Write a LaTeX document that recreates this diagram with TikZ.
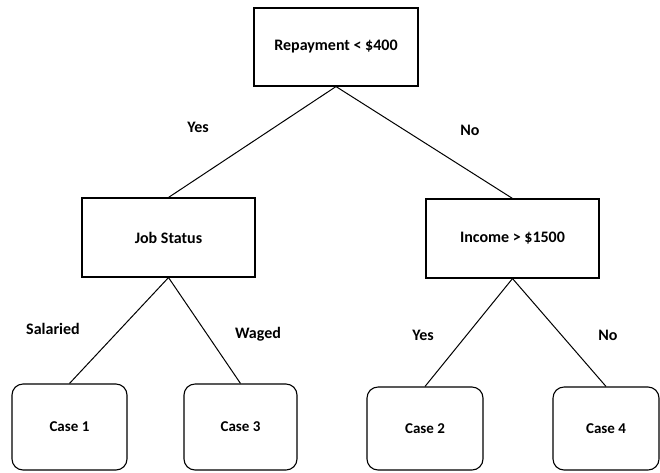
\documentclass[tikz,border=0pt]{standalone}
\usepackage{fontspec}
\setmainfont{Carlito}
\begin{document}
\begin{tikzpicture}[x=1pt,y=-1pt,
  every node/.append style={font=\fontsize{16}{19}\selectfont\bfseries},
  decision/.style={draw, line width=1.1pt, inner sep=0pt},
  leaf/.style={draw, line width=1.1pt, rounded corners=11pt, inner sep=0pt, font=\fontsize{15}{18}\selectfont\bfseries},
  branch/.style={line width=1pt},
  lbl/.style={inner sep=0pt}]
\useasboundingbox (0,0) rectangle (660,472);
\node[decision, minimum width=164pt, minimum height=78pt] (root) at (336,47) {Repayment < \$400};
\node[decision, minimum width=173pt, minimum height=79pt] (job) at (168.5,237.5) {Job Status};
\node[decision, minimum width=173pt, minimum height=79pt] (inc) at (512.5,238.5) {Income > \$1500};
\node[leaf, minimum width=115pt, minimum height=86pt] (c1) at (69.5,427) {Case 1};
\node[leaf, minimum width=113pt, minimum height=86pt] (c3) at (240.5,427) {Case 3};
\node[leaf, minimum width=116pt, minimum height=83pt] (c2) at (425,428.5) {Case 2};
\node[leaf, minimum width=106pt, minimum height=83pt] (c4) at (606,428.5) {Case 4};
\draw[branch] (root.south) -- (job.north);
\draw[branch] (root.south) -- (inc.north);
\draw[branch] (job.south) -- (c1.north);
\draw[branch] (job.south) -- (c3.north);
\draw[branch] (inc.south) -- (c2.north);
\draw[branch] (inc.south) -- (c4.north);
\node[lbl] (l1) at (198,127) {Yes};
\node[lbl] (l2) at (470,130) {No};
\node[lbl] (l3) at (53,329) {Salaried};
\node[lbl] (l4) at (258,334) {Waged};
\node[lbl] (l5) at (423,335) {Yes};
\node[lbl] (l6) at (608,335) {No};
\end{tikzpicture}
\end{document}
